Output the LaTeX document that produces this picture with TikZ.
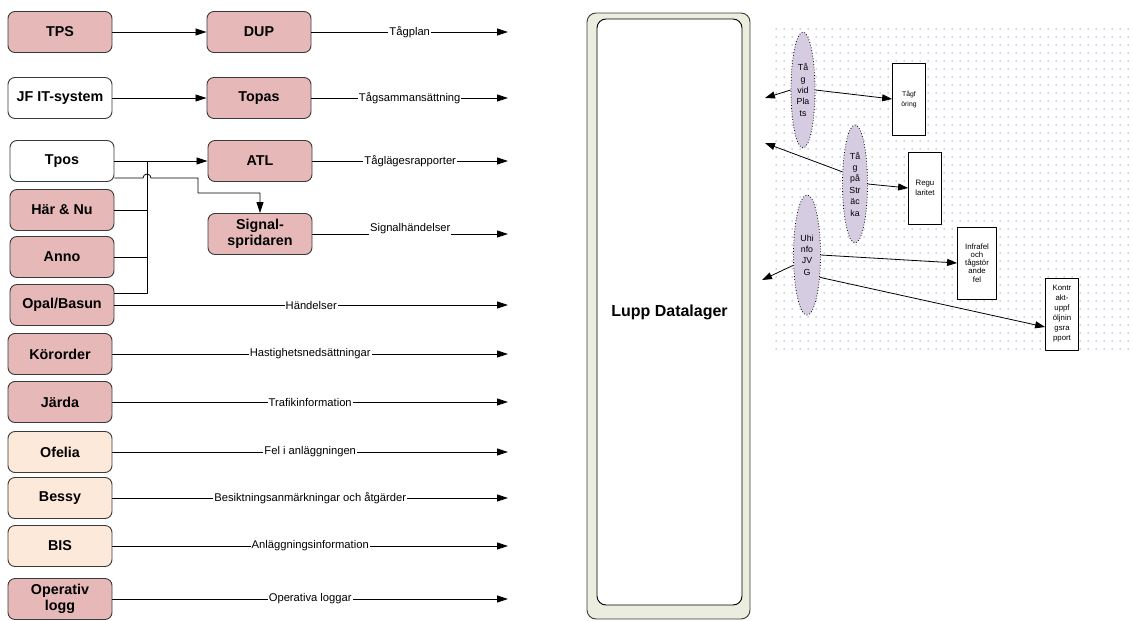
\documentclass[tikz,border=0pt]{standalone}
\usepackage{fontspec}
\setmainfont{Liberation Sans}
\usetikzlibrary{arrows.meta,shapes.geometric,patterns.meta,calc}
\definecolor{rosa}{HTML}{E6B9B8}
\definecolor{persika}{HTML}{FDE9D9}
\definecolor{lupp}{HTML}{EBEEDF}
\definecolor{lila}{HTML}{D5CCE1}
\definecolor{prick}{HTML}{93A6C9}
\definecolor{kant}{HTML}{3A3A3A}

\begin{document}
\begin{tikzpicture}[x=1pt,y=-1pt,line join=round,
 sys/.style={draw=kant,line width=0.9pt,rounded corners=7pt,minimum width=104pt,minimum height=41pt,inner sep=1pt,align=center,font=\bfseries\fontsize{14.3}{15.5}\selectfont},
 flow/.style={-{Triangle[length=11pt,width=7pt]},line width=0.8pt},
 flowb/.style={-{Triangle[length=10pt,width=7pt]},line width=0.8pt},
 lbl/.style={midway,fill=white,inner sep=1pt,font=\fontsize{11.2}{12}\selectfont},
 vy/.style={ellipse,draw,dotted,line width=0.8pt,fill=lila,inner sep=0pt,align=center,font=\fontsize{8.8}{11.4}\selectfont},
 rap/.style={draw,line width=0.8pt,fill=white,inner sep=1pt,minimum width=33pt,minimum height=72pt,align=center,font=\fontsize{7.8}{10}\selectfont}]
\useasboundingbox (0,0) rectangle (1133,621);
\fill[pattern={Dots[distance=8pt,radius=0.75pt]},pattern color=prick] (772,22) rectangle (1131,355);
% source systems
\node[sys,fill=rosa] (tps) at (60,32) {TPS};
\node[sys,fill=rosa] (dup) at (259,32) {DUP};
\node[sys,fill=white] (jfit) at (60,98) {JF IT-system};
\node[sys,fill=rosa] (topas) at (259,98) {Topas};
\node[sys,fill=white] (tpos) at (62,161) {Tpos};
\node[sys,fill=rosa] (atl) at (260,161) {ATL};
\node[sys,fill=rosa] (harnu) at (62,210) {Här \& Nu};
\node[sys,fill=rosa] (signal) at (260,234) {Signal-\\spridaren};
\node[sys,fill=rosa] (anno) at (62,257) {Anno};
\node[sys,fill=rosa] (opal) at (62,305) {Opal/Basun};
\node[sys,fill=rosa] (kororder) at (60,354) {Körorder};
\node[sys,fill=rosa] (jarda) at (60,402) {Järda};
\node[sys,fill=persika] (ofelia) at (60,452) {Ofelia};
\node[sys,fill=persika] (bessy) at (60,498) {Bessy};
\node[sys,fill=persika] (bis) at (60,546) {BIS};
\node[sys,fill=rosa] (oplogg) at (60,599) {Operativ\\logg};
% datalager
\node[draw=kant,fill=lupp,rounded corners=9pt,minimum width=163pt,minimum height=606pt,line width=0.9pt] (lupp) at (668.5,316) {};
\node[draw,fill=white,rounded corners=9pt,minimum width=145pt,minimum height=586pt,line width=0.9pt,font=\bfseries\fontsize{16}{18}\selectfont] (lager) at (669.5,312) {Lupp Datalager};
% flows in
\coordinate (buss) at (147,161);
\coordinate (hopp) at (143,178);
\coordinate (knack) at (198,193);
\coordinate (slut) at (508,0);
\draw[flow] (tps) -- (dup);
\draw[flow] (jfit) -- (topas);
\draw[flow] (tpos) -- (atl);
\draw[line width=0.8pt] (harnu.east) -| (buss);
\draw[line width=0.8pt] (anno.east) -| (buss);
\draw[line width=0.8pt] ([yshift=12pt]opal.east) -| (buss);
\draw[flow] (tpos.east |- hopp) -- (hopp) arc[start angle=180,end angle=360,radius=4] -- (knack |- hopp) -- (knack) -| (signal.north);
\foreach \n/\t in {dup/Tågplan,topas/Tågsammansättning,atl/Tåglägesrapporter,opal/Händelser,kororder/Hastighetsnedsättningar,jarda/Trafikinformation,ofelia/Fel i anläggningen,bessy/Besiktningsanmärkningar och åtgärder,bis/Anläggningsinformation,oplogg/Operativa loggar}
  \draw[flow] (\n.east) -- (\n.east -| slut) node[lbl]{\t};
\draw[flow] (signal.east) -- (signal.east -| slut) node[lbl,yshift=5pt]{Signalhändelser};
% views and reports
\node[vy,minimum width=24pt,minimum height=116pt] (vidplats) at (803,90) {Tå\\g\\vid\\Pla\\ts};
\node[vy,minimum width=25pt,minimum height=118pt] (pastracka) at (855,184) {Tå\\g\\på\\Str\\äc\\ka};
\node[vy,minimum width=27pt,minimum height=120pt] (uhinfo) at (807,255) {Uhi\\nfo\\JV\\G};
\node[rap,font=\fontsize{6.8}{10}\selectfont] (tagforing) at (909,99) {Tågf\\öring};
\node[rap] (regularitet) at (925,188) {Regu\\laritet};
\node[rap,minimum width=39pt,font=\fontsize{7.8}{8.2}\selectfont] (infrafel) at (977,263) {Infrafel\\och\\tågstör\\ande\\fel};
\node[rap] (kontrakt) at (1062,314) {Kontr\\akt-\\uppf\\öljnin\\gsra\\pport};
\coordinate (ut1) at (765,98);
\coordinate (ut2) at (765,143);
\coordinate (ut3) at (762,280);
\draw[flowb] (vidplats.west) -- (ut1);
\draw[flowb] (vidplats.east) -- (tagforing.west);
\draw[flowb] (pastracka.136) -- (ut2);
\draw[flowb] (pastracka.east) -- (regularitet.west);
\draw[flowb] (uhinfo.217) -- (ut3);
\draw[flowb] (uhinfo.east) -- (infrafel.west);
\draw[flowb] (uhinfo.300) -- ([yshift=-13pt]kontrakt.west);
\end{tikzpicture}
\end{document}
